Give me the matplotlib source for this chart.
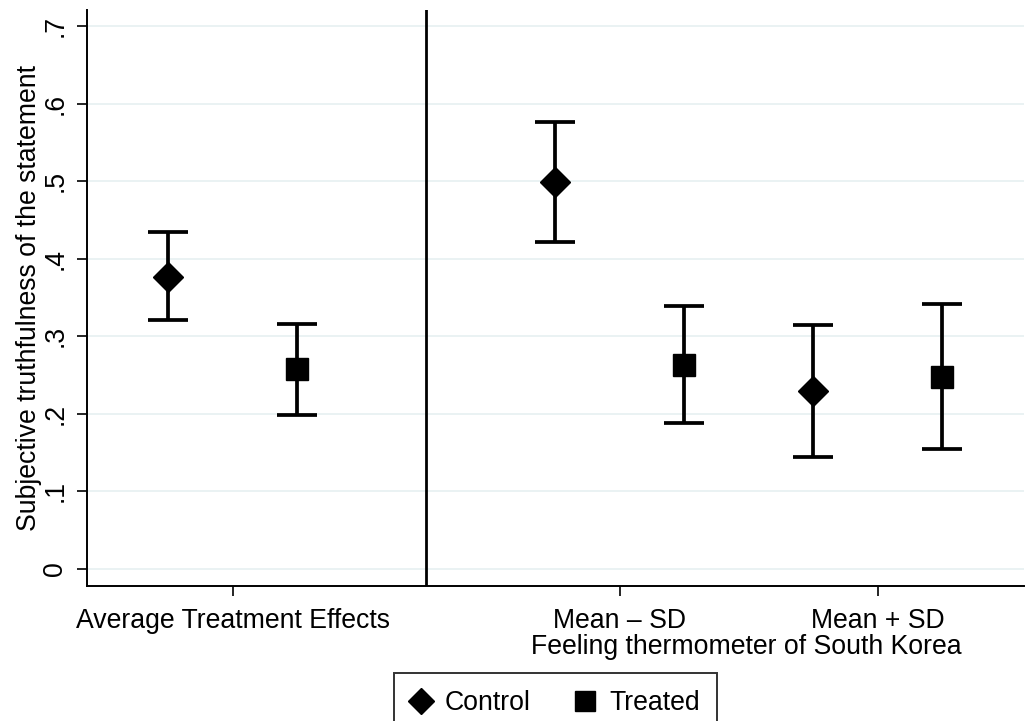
import matplotlib
matplotlib.use("Agg")
from matplotlib import pyplot as plt
from matplotlib import transforms
from matplotlib.lines import Line2D

plt.rcParams['font.family'] = ['Liberation Sans', 'DejaVu Sans']

# values
groups = ["Average Treatment Effects", "Mean \u2013 SD", "Mean + SD"]
control_est = [0.377, 0.499, 0.230]
control_lo = [0.321, 0.422, 0.145]
control_hi = [0.434, 0.577, 0.315]
treated_est = [0.2575, 0.263, 0.248]
treated_lo = [0.199, 0.188, 0.155]
treated_hi = [0.3155, 0.339, 0.342]
y_ticks = [0, 0.1, 0.2, 0.3, 0.4, 0.5, 0.6, 0.7]
y_ticklabels = ["0", ".1", ".2", ".3", ".4", ".5", ".6", ".7"]

centers = [0.5, 3.5, 5.5]
fs = 19.2

fig = plt.figure(figsize=(10.26, 7.21), dpi=100)
ax = fig.add_axes([87 / 1026, 1 - 586 / 721, (1024 - 87) / 1026, (586 - 10) / 721])

for y in y_ticks:
    ax.axhline(y, color='#eaf2f3', lw=1.4, zorder=0)

err_kw = dict(fmt='none', ecolor='black', elinewidth=2.7, capsize=14.4, capthick=2.7, zorder=2)

cx = [c - 0.5 for c in centers]
tx = [c + 0.5 for c in centers]
ax.errorbar(cx, control_est,
            yerr=[[e - l for e, l in zip(control_est, control_lo)],
                  [h - e for e, h in zip(control_est, control_hi)]], **err_kw)
ax.errorbar(tx, treated_est,
            yerr=[[e - l for e, l in zip(treated_est, treated_lo)],
                  [h - e for e, h in zip(treated_est, treated_hi)]], **err_kw)
ax.plot(cx, control_est, 'D', color='black', ms=15, ls='none', zorder=3)
ax.plot(tx, treated_est, 's', color='black', ms=15.5, ls='none', zorder=3)

ax.axvline(2.0, color='black', lw=2.0, zorder=2)

ax.set_xlim(-0.63, 6.635)
ax.set_ylim(-0.022, 0.721)

ax.set_xticks(centers)
ax.set_xticklabels(groups, fontsize=fs)
ax.set_yticks(y_ticks)
ax.set_yticklabels(y_ticklabels, fontsize=fs, rotation=90, va='center')
ax.tick_params(axis='both', direction='out', length=7.5, width=1.2, color='black')
ax.tick_params(axis='x', pad=8.5)
ax.tick_params(axis='y', pad=6)

ax.set_ylabel("Subjective truthfulness of the statement", fontsize=fs, labelpad=0)

for side in ['top', 'right']:
    ax.spines[side].set_visible(False)
for side in ['left', 'bottom']:
    ax.spines[side].set_linewidth(1.4)
    ax.spines[side].set_color('black')

mixed = transforms.blended_transform_factory(ax.transData, fig.transFigure)
ax.text(4.48, 1 - 654 / 721, "Feeling thermometer of South Korea", fontsize=fs,
        ha='center', va='baseline', transform=mixed)

handles = [Line2D([], [], marker='D', color='black', ls='none', ms=13.5),
           Line2D([], [], marker='s', color='black', ls='none', ms=14)]
leg = fig.legend(handles, ["Control", "Treated"], loc='upper center',
                 bbox_to_anchor=(555.5 / 1026, 1 - 673 / 721), ncol=2, fontsize=fs,
                 frameon=True, fancybox=False, edgecolor='black', handlelength=0.7,
                 handletextpad=0.55, columnspacing=1.7, borderpad=0.65, borderaxespad=0)
leg.get_frame().set_linewidth(1.4)

fig.savefig("out.png", dpi=100)
